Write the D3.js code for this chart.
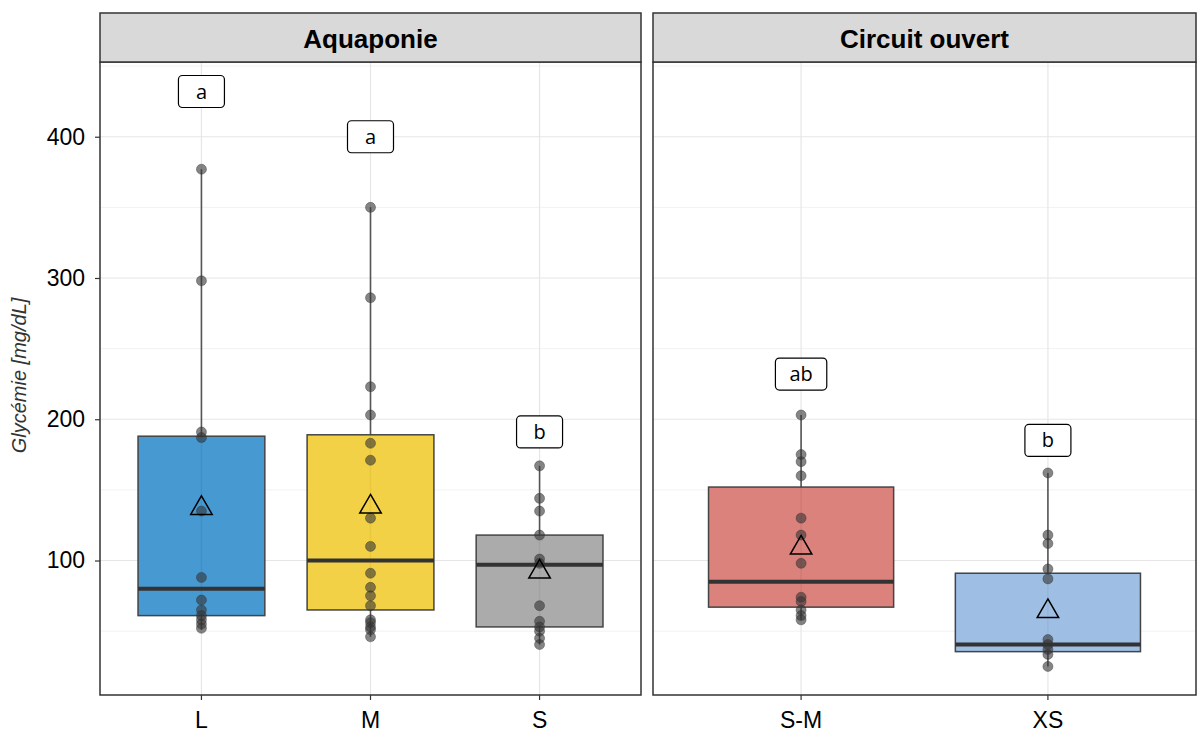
<!DOCTYPE html>
<html>
<head>
<meta charset="utf-8">
<script src="https://cdn.jsdelivr.net/npm/d3@7"></script>
<style>
  body { margin: 0; background: #fff; }
  svg { display: block; }
</style>
</head>
<body>
<svg id="chart"></svg>
<script>
// panels and their groups
const panels = ["Aquaponie", "Circuit ouvert"];
const panelGroups = [["L", "M", "S"], ["S-M", "XS"]];
const groupColors = { "L": "#3d94d0", "M": "#f1cf3c", "S": "#a6a6a6", "S-M": "#d97b76", "XS": "#99bbe3" };

// raw points (mg/dL)
const pointsL = [377, 298, 191, 187, 135, 88, 72, 65, 61, 58, 55, 52];
const pointsM = [350, 286, 223, 203, 183, 171, 130, 110, 91, 81, 75, 68, 58, 56, 53, 51, 46];
const pointsS = [167, 144, 135, 118, 101, 98, 68, 57, 53, 50, 45, 40.5];
const pointsSM = [203, 175, 170, 160, 130, 118, 98, 74, 71, 65, 61, 58];
const pointsXS = [162, 118, 112, 94, 87, 44, 40.5, 37, 33.5, 25];

// box statistics, order: L, M, S, S-M, XS
const groups = ["L", "M", "S", "S-M", "XS"];
const whiskerLow = [51, 46, 40.5, 58, 25];
const q1 = [61, 65, 53, 67, 35.5];
const median = [80, 100, 97, 85, 40.5];
const q3 = [188, 189, 118, 152, 91];
const whiskerHigh = [377, 350, 167, 203, 162];
const means = [137, 138, 92, 109, 64];

// letters of significance
const letters = ["a", "a", "b", "ab", "b"];
const letterY = [432, 400, 191, 232, 185];

const yTicks = [100, 200, 300, 400];
const yMinor = [50, 150, 250, 350, 450];

const pointsByGroup = { "L": pointsL, "M": pointsM, "S": pointsS, "S-M": pointsSM, "XS": pointsXS };

const W = 1198, H = 733;
const stripTop = 13, stripH = 49, plotBottom = 695;
const panelX = [[100, 641], [653, 1196]];
const font = "'Liberation Sans', Arial, sans-serif";

const svg = d3.select("#chart").attr("width", W).attr("height", H);

const y = d3.scaleLinear().domain([4.8, 452.9]).range([plotBottom, stripTop + stripH]);

panels.forEach((name, pi) => {
    const [x0, x1] = panelX[pi];
    const cats = panelGroups[pi];
    const x = d3.scalePoint().domain(cats).range([x0, x1]).padding(0.6);
    const bw = x.step() * 0.75;
    const g = svg.append("g");

    // grid
    g.selectAll(".minor").data(yMinor).enter().append("line")
        .attr("x1", x0).attr("x2", x1)
        .attr("y1", d => y(d)).attr("y2", d => y(d))
        .attr("stroke", "#f2f2f2").attr("stroke-width", 1);
    g.selectAll(".major").data(yTicks).enter().append("line")
        .attr("x1", x0).attr("x2", x1)
        .attr("y1", d => y(d)).attr("y2", d => y(d))
        .attr("stroke", "#e6e6e6").attr("stroke-width", 1.2);
    g.selectAll(".vgrid").data(cats).enter().append("line")
        .attr("x1", d => x(d)).attr("x2", d => x(d))
        .attr("y1", stripTop + stripH).attr("y2", plotBottom)
        .attr("stroke", "#e6e6e6").attr("stroke-width", 1.2);

    cats.forEach(c => {
        const i = groups.indexOf(c);
        const cx = x(c);
        // whisker
        g.append("line")
            .attr("x1", cx).attr("x2", cx)
            .attr("y1", y(whiskerLow[i])).attr("y2", y(whiskerHigh[i]))
            .attr("stroke", "#555").attr("stroke-width", 1.6);
        // box
        g.append("rect")
            .attr("x", cx - bw / 2).attr("width", bw)
            .attr("y", y(q3[i])).attr("height", y(q1[i]) - y(q3[i]))
            .attr("fill", groupColors[c]).attr("fill-opacity", 0.95)
            .attr("stroke", "#444").attr("stroke-width", 1.5);
        // median
        g.append("line")
            .attr("x1", cx - bw / 2).attr("x2", cx + bw / 2)
            .attr("y1", y(median[i])).attr("y2", y(median[i]))
            .attr("stroke", "#333").attr("stroke-width", 4);
        // points
        g.selectAll(".pt" + i).data(pointsByGroup[c]).enter().append("circle")
            .attr("cx", cx).attr("cy", d => y(d)).attr("r", 5)
            .attr("fill", "#333").attr("fill-opacity", 0.6)
            .attr("stroke", "#333").attr("stroke-opacity", 0.4);
        // mean
        g.append("path")
            .attr("d", d3.symbol(d3.symbolTriangle, 200)())
            .attr("transform", `translate(${cx},${y(means[i])})`)
            .attr("fill", "none").attr("stroke", "#000").attr("stroke-width", 1.5);
        // letter label
        const lg = g.append("g").attr("transform", `translate(${cx},${y(letterY[i])})`);
        const rect = lg.append("rect");
        const t = lg.append("text")
            .attr("text-anchor", "middle").attr("dy", "0.35em")
            .style("font-family", "'Open Sans', sans-serif").style("font-size", "20px")
            .attr("fill", "#000").text(letters[i]);
        const tw = t.node().getComputedTextLength();
        const rw = Math.max(46, tw + 28);
        rect.attr("x", -rw / 2).attr("y", -16).attr("width", rw).attr("height", 32)
            .attr("rx", 4).attr("fill", "#fff").attr("stroke", "#000").attr("stroke-width", 1.2);

        // x tick + label
        g.append("line").attr("x1", cx).attr("x2", cx).attr("y1", plotBottom).attr("y2", plotBottom + 5)
            .attr("stroke", "#333").attr("stroke-width", 1.2);
        g.append("text").attr("x", cx).attr("y", plotBottom + 33)
            .attr("text-anchor", "middle")
            .style("font-family", font).style("font-size", "23px")
            .attr("fill", "#000").text(c);
    });

    // panel border
    g.append("rect").attr("x", x0).attr("y", stripTop + stripH).attr("width", x1 - x0).attr("height", plotBottom - stripTop - stripH)
        .attr("fill", "none").attr("stroke", "#333").attr("stroke-width", 1.5);
    // strip
    g.append("rect").attr("x", x0).attr("y", stripTop).attr("width", x1 - x0).attr("height", stripH)
        .attr("fill", "#d9d9d9").attr("stroke", "#333").attr("stroke-width", 1.5);
    g.append("text").attr("x", (x0 + x1) / 2).attr("y", stripTop + stripH / 2 + 1).attr("dy", "0.35em")
        .attr("text-anchor", "middle")
        .style("font-family", font).style("font-size", "26px")
        .style("font-weight", "bold").attr("fill", "#000").text(name);
});

// y axis
const yAxis = svg.append("g").attr("transform", `translate(${panelX[0][0]},0)`)
    .call(d3.axisLeft(y).tickValues(yTicks).tickSize(5).tickPadding(10));
yAxis.select(".domain").remove();
yAxis.selectAll("line").attr("stroke", "#333").attr("stroke-width", 1.2);
yAxis.selectAll("text")
    .style("font-family", font).style("font-size", "23px").attr("fill", "#000");

svg.append("text")
    .attr("transform", `translate(26,${(stripTop + stripH + plotBottom) / 2 - 3}) rotate(-90)`)
    .attr("text-anchor", "middle")
    .style("font-family", font).style("font-size", "20px")
    .style("font-style", "italic").attr("fill", "#333").text("Glycémie [mg/dL]");
</script>
</body>
</html>
